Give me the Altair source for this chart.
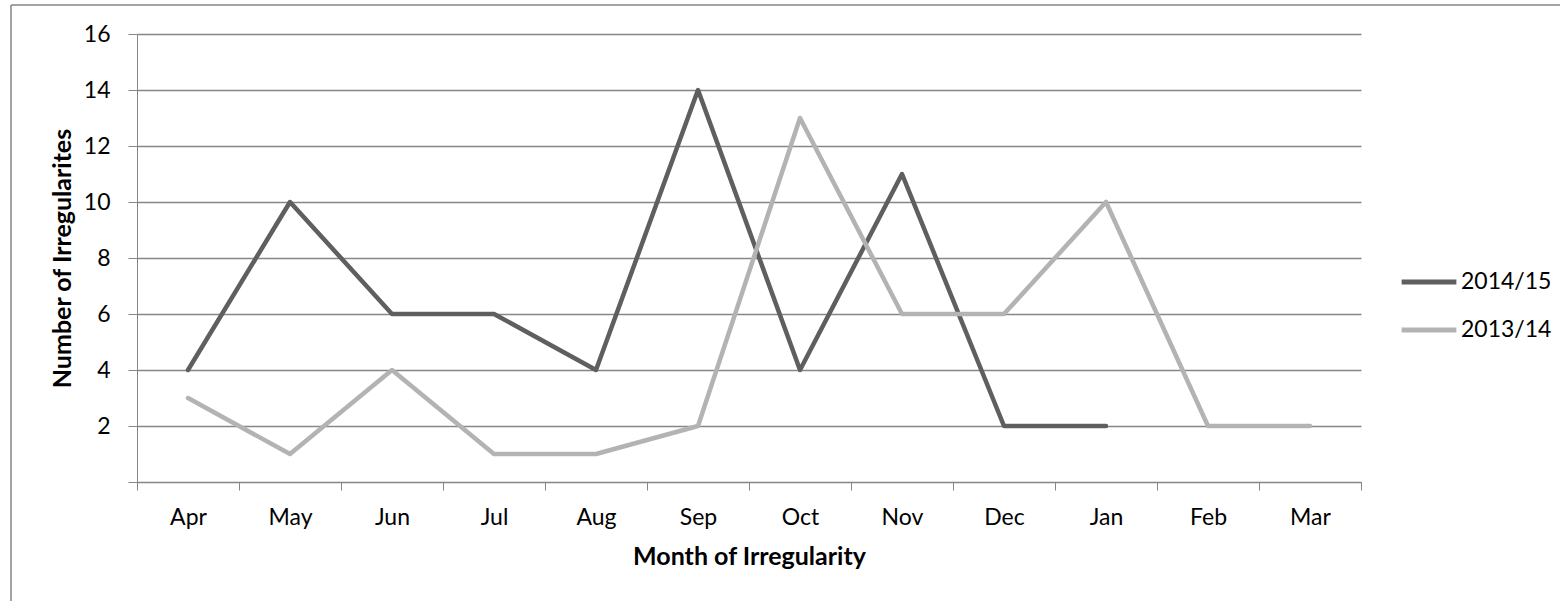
import altair as alt
import pandas as pd

# Monthly counts of irregularities, financial year Apr..Mar
months = ["Apr", "May", "Jun", "Jul", "Aug", "Sep", "Oct", "Nov", "Dec", "Jan", "Feb", "Mar"]
fy_2014_15 = [4, 10, 6, 6, 4, 14, 4, 11, 2, 2, None, None]
fy_2013_14 = [3, 1, 4, 1, 1, 2, 13, 6, 6, 10, 2, 2]
series_names = ["2014/15", "2013/14"]
series_colors = ["#5f5f5f", "#b3b3b3"]

rows = []
for name, values in zip(series_names, [fy_2014_15, fy_2013_14]):
    for m, v in zip(months, values):
        if v is not None:
            rows.append({"month": m, "count": v, "year": name})
df = pd.DataFrame(rows)

FONT = "Lato"
GRID = "#868686"
LABEL_SIZE = 23
TITLE_SIZE = 25

x_enc = alt.X(
    "month:N",
    sort=months,
    bandPosition=0.5,
    scale=alt.Scale(type="band", domain=months, paddingInner=0, paddingOuter=0),
    axis=alt.Axis(
        title="Month of Irregularity",
        tickBand="extent",
        labelAngle=0,
        labelFontSize=LABEL_SIZE,
        labelPadding=16,
        tickSize=8,
        tickColor=GRID,
        domainColor=GRID,
        titleFontSize=TITLE_SIZE,
        titleFontWeight="bold",
        titlePadding=15,
        grid=False,
    ),
)

y_enc = alt.Y(
    "count:Q",
    scale=alt.Scale(domain=[0, 16], nice=False),
    axis=alt.Axis(
        title="Number of Irregularites",
        values=list(range(0, 17, 2)),
        labelExpr="datum.value == 0 ? '' : datum.label",
        labelFontSize=LABEL_SIZE,
        labelPadding=18,
        tickSize=9,
        tickColor=GRID,
        domainColor=GRID,
        gridColor=GRID,
        gridWidth=1.5,
        titleFontSize=TITLE_SIZE,
        titleFontWeight="bold",
        titlePadding=8,
    ),
)

lines = (
    alt.Chart(df)
    .mark_line(strokeWidth=4.5, strokeJoin="round", strokeCap="round")
    .encode(
        x=x_enc,
        y=y_enc,
        color=alt.Color(
            "year:N",
            sort=series_names,
            scale=alt.Scale(domain=series_names, range=series_colors),
            legend=alt.Legend(
                title=None,
                orient="none",
                legendX=1262,
                legendY=218,
                symbolType="stroke",
                symbolSize=3000,
                symbolStrokeWidth=5,
                labelFontSize=LABEL_SIZE,
                labelOffset=2,
                rowPadding=6,
            ),
        ),
        detail="year:N",
    )
)

# Outer frame of the chart (left and top edges)
frame_left = alt.Chart(pd.DataFrame({"k": [0]})).mark_rule(color=GRID, strokeWidth=1.5).encode(
    x=alt.value(-126), y=alt.value(-29), y2=alt.value(600)
)
frame_top = alt.Chart(pd.DataFrame({"k": [0]})).mark_rule(color=GRID, strokeWidth=1.5).encode(
    x=alt.value(-126), x2=alt.value(1500), y=alt.value(-29)
)

chart = (
    alt.layer(lines, frame_left, frame_top)
    .properties(
        width=1224,
        height=448,
        autosize=alt.AutoSizeParams(type="none"),
        padding={"left": 137, "top": 34, "right": 199, "bottom": 119},
    )
    .configure(font=FONT)
    .configure_view(stroke=None)
    .configure_axis(labelColor="#000000", titleColor="#000000", labelFont=FONT, titleFont=FONT)
    .configure_legend(labelColor="#000000", labelFont=FONT)
)

chart.save("out.html", embed_options={"renderer": "svg", "actions": False})
